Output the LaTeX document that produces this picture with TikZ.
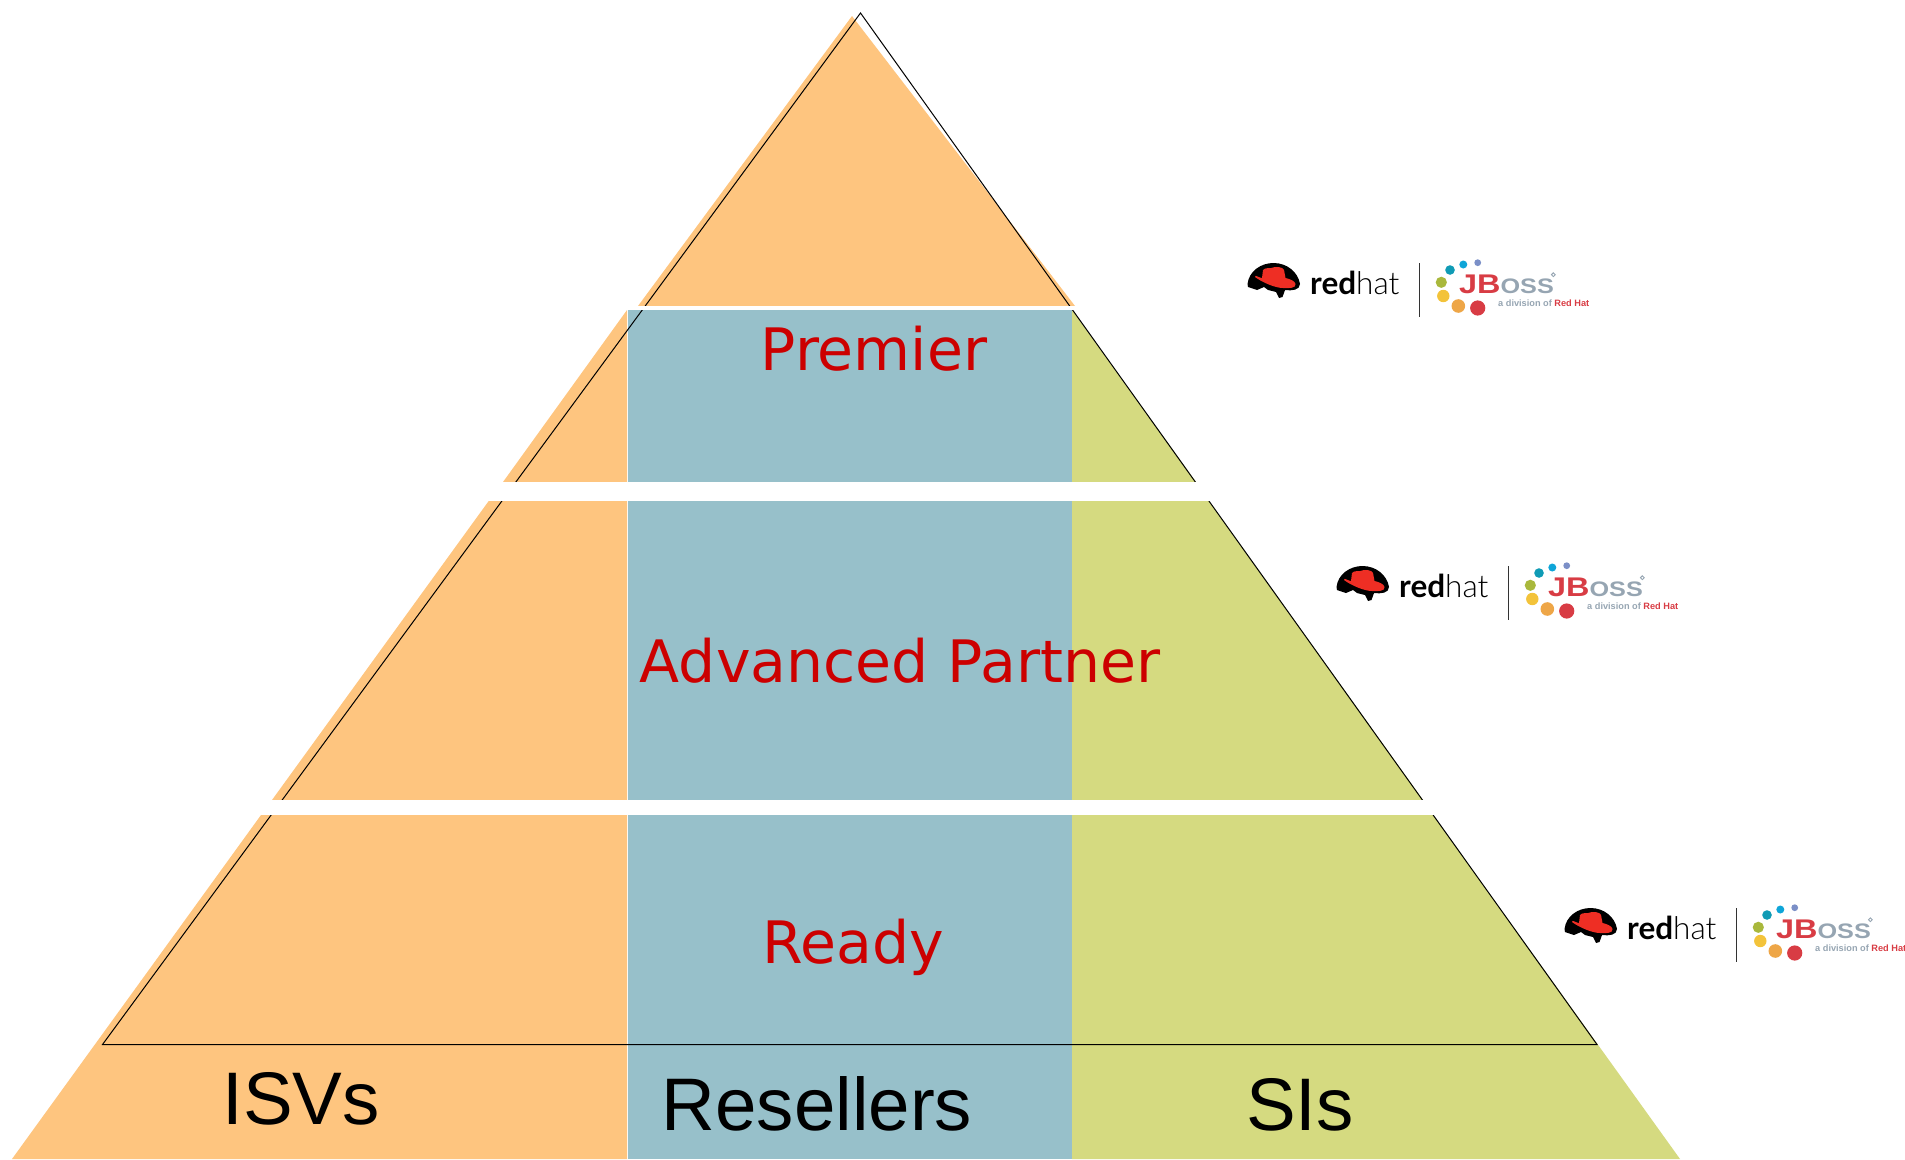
\documentclass[tikz,border=0pt]{standalone}
\usepackage{graphicx}
\usepackage{fontspec}
\setmainfont{Liberation Sans}
\newfontfamily\dejav{DejaVu Sans}
\newfontfamily\rhbold{Lato}[BoldFont={* Bold}]
\newfontfamily\rhlight{Lato Light}
\definecolor{orangefill}{RGB}{254,197,127}
\definecolor{bluefill}{RGB}{151,192,202}
\definecolor{greenfill}{RGB}{213,218,128}
\definecolor{tierred}{RGB}{204,0,0}
\definecolor{hatred}{RGB}{238,46,36}
\definecolor{jbred}{RGB}{216,60,68}
\definecolor{jbgray}{RGB}{150,165,178}
\definecolor{dotA}{RGB}{123,143,199}
\definecolor{dotB}{RGB}{14,165,216}
\definecolor{dotC}{RGB}{15,155,181}
\definecolor{dotD}{RGB}{169,184,60}
\definecolor{dotE}{RGB}{243,195,58}
\definecolor{dotF}{RGB}{238,166,71}
\tikzset{
  x=1pt,y=-1pt,
  tier/.style={font=\dejav\fontsize{58.5}{58.5}\selectfont,text=tierred,anchor=base,inner sep=0pt},
  column/.style={font=\fontsize{74.5}{74.5}\selectfont,text=black,anchor=base,inner sep=0pt},
  small/.style={anchor=base west,inner sep=0pt},
  rhlogo/.pic={
    \fill[black] (17.5,44) .. controls (19,31) and (31,23) .. (43.5,23) .. controls (57,23) and (68,32) .. (70,44) .. controls (70,50) and (62,51) .. (55,50) -- (52.5,57) -- (49,58) -- (46,52) -- (38,50) -- (34,47) -- (27,50) -- (18,47) -- cycle;
    \fill[hatred] (33,30) .. controls (36,27) and (38,29) .. (41,28) .. controls (46,26) and (53,27) .. (54,30) -- (55.5,38) .. controls (60,39) and (65,41) .. (65.5,44) .. controls (66,48) and (60,48.5) .. (53,48) .. controls (46,48) and (33,43) .. (25,37) .. controls (25,34) and (29,38) .. (32,38) -- cycle;
    \node[small] (rh) at (80,54.5) {\fontsize{31.5}{31.5}\selectfont{\rhbold\bfseries red}{\rhlight hat}};
    \draw[line width=0.9pt,black!80] (189.3,23) -- (189.3,77);
    \fill[dotA] (247.7,22.7) circle (3.4);
    \fill[dotB] (233.3,24.5) circle (4);
    \fill[dotC] (220,30) circle (4.8);
    \fill[dotD] (211.3,42.3) circle (5.6);
    \fill[dotE] (213.3,56) circle (6.2);
    \fill[dotF] (228.3,66) circle (6.8);
    \fill[jbred] (247.7,68) circle (7.6);
    \node[small] (jb) at (229,53) {\scalebox{1.2}[1]{\bfseries\fontsize{27}{27}\selectfont\color{jbred}JB\fontsize{21}{21}\selectfont\color{jbgray}OSS}};
    \draw[jbgray,line width=0.9pt] (323.3,34.7) circle (1.9);
    \node[small] (div) at (268,66) {\fontsize{9.2}{9.2}\selectfont\bfseries\color{jbgray}a division of \color{jbred}Red Hat};
  }
}
\begin{document}
\begin{tikzpicture}
\useasboundingbox (0,0) rectangle (1905,1159);
\clip (0,0) rectangle (1905,1159);
% orange column
\fill[orangefill] (852,16) -- (1075,306) -- (638,306) -- cycle;
\fill[orangefill] (627,310) -- (503,482) -- (627,482) -- cycle;
\fill[orangefill] (488.7,501) -- (272,800) -- (627,800) -- (627,501) -- cycle;
\fill[orangefill] (261,815) -- (12,1159) -- (627,1159) -- (627,815) -- cycle;
% blue column
\fill[bluefill] (627.7,310) rectangle (1072,482);
\fill[bluefill] (627.7,501) rectangle (1072,800);
\fill[bluefill] (627.7,815) rectangle (1072,1159);
% green column
\fill[greenfill] (1072,310) -- (1196,482) -- (1072,482) -- cycle;
\fill[greenfill] (1072,501) -- (1209,501) -- (1423,800) -- (1072,800) -- cycle;
\fill[greenfill] (1072,815) -- (1433,815) -- (1680,1159) -- (1072,1159) -- cycle;
% outline
\coordinate (apex) at (860.5,13);
\coordinate (bl) at (102.5,1044.5);
\coordinate (br) at (1597,1044.5);
\draw[black,line width=1pt] (apex) -- (br) -- (bl) -- cycle;
% white gaps over the outline
\fill[white] (480,306) rectangle (1240,310);
\fill[white] (480,482) rectangle (1240,501);
\fill[white] (250,800) rectangle (1450,815);
% tier labels
\node[tier] (premier) at (874,370) {Premier};
\node[tier] (advanced) at (900,682) {Advanced Partner};
\node[tier] (ready) at (853,963) {Ready};
% column labels
\node[column] (isvs) at (301,1124) {ISVs};
\node[column] (resellers) at (817,1130.5) {Resellers};
\node[column] (sis) at (1300,1130.5) {SIs};
% logos
\pic (logoA) at (1230,240) {rhlogo};
\pic (logoB) at (1319,543) {rhlogo};
\pic (logoC) at (1547,885) {rhlogo};
\end{tikzpicture}
\end{document}
